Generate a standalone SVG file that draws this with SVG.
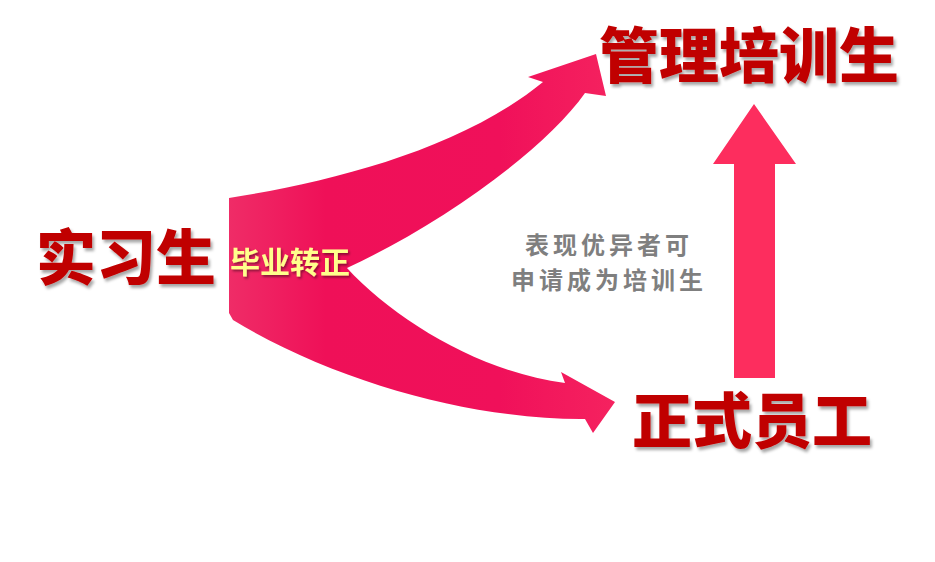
<svg xmlns="http://www.w3.org/2000/svg" width="935" height="562" viewBox="0 0 935 562">
  <defs>
    <linearGradient id="curveGrad" x1="229" y1="0" x2="615" y2="0" gradientUnits="userSpaceOnUse">
      <stop offset="0" stop-color="#EF2C67"/>
      <stop offset="0.25" stop-color="#EF1058"/>
      <stop offset="0.7" stop-color="#F0105A"/>
      <stop offset="1" stop-color="#F5225F"/>
    </linearGradient>
    <filter id="shadow" x="-10%" y="-20%" width="130%" height="150%">
      <feDropShadow dx="2" dy="3" stdDeviation="1.5" flood-color="#000" flood-opacity="0.35"/>
    </filter>
    <filter id="shadowSmall" x="-10%" y="-20%" width="130%" height="150%">
      <feDropShadow dx="1.5" dy="2" stdDeviation="1" flood-color="#000" flood-opacity="0.4"/>
    </filter>
  </defs>
  <style>
    .big { font-family: "Noto Sans CJK SC", "Microsoft YaHei", sans-serif; font-weight: 900; font-size: 60px; fill: #C00000; }
    .label { font-family: "Noto Sans CJK SC", sans-serif; font-weight: 700; font-size: 30px; fill: #FFFF8C; }
    .note { font-family: "Noto Sans CJK SC", sans-serif; font-weight: 700; font-size: 24px; letter-spacing: 4px; fill: #7F7F7F; }
  </style>

  <rect width="935" height="562" fill="#FFFFFF"/>

  <g id="connectors">
    <path id="split-arrow" fill="url(#curveGrad)" d="M229,198 C330,182 460,150 543,82 L528,77 L596,54 L606,96 L585,93 C545,150 440,225 347,268 C395,320 480,372 565,383 L561,372 L615,402 L593,433 L585,419 C480,420 340,385 233,320 L229,313 Z"/>
    <path id="up-arrow" fill="#FD2D5E" d="M734,378 L734,164 L713,164 L754,104 L796,164 L775,164 L775,378 Z"/>
  </g>

  <g id="node-intern">
    <text class="big" x="36" y="280" filter="url(#shadow)">实习生</text>
  </g>
  <g id="node-trainee">
    <text class="big" x="749" y="78" text-anchor="middle" filter="url(#shadow)">管理培训生</text>
  </g>
  <g id="node-employee">
    <text class="big" x="752" y="443" text-anchor="middle" filter="url(#shadow)">正式员工</text>
  </g>
  <g id="label-graduate">
    <text class="label" x="290" y="273" text-anchor="middle" filter="url(#shadowSmall)">毕业转正</text>
  </g>
  <g id="label-note">
    <text class="note" x="609" y="254" text-anchor="middle">表现优异者可</text>
    <text class="note" x="609" y="289" text-anchor="middle">申请成为培训生</text>
  </g>
</svg>
